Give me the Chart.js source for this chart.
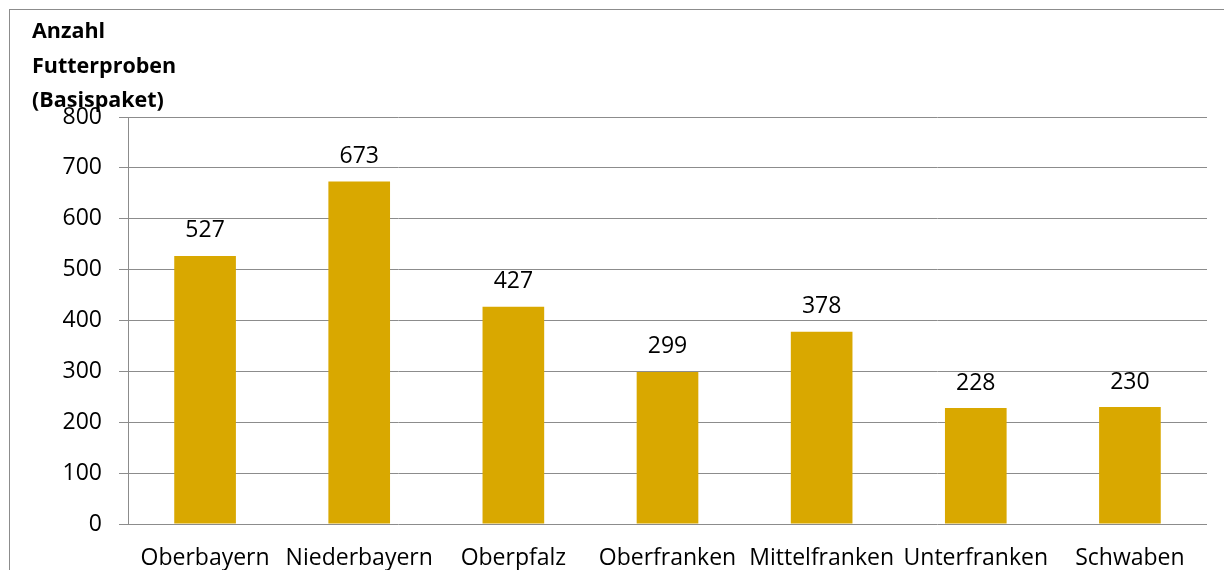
<!DOCTYPE html>
<html>
<head>
<meta charset="utf-8">
<script src="https://cdn.jsdelivr.net/npm/chart.js@4/dist/chart.umd.min.js"></script>
<style>
  html, body { margin: 0; padding: 0; background: #fff; }
  #wrap { width: 1224px; height: 570px; }
</style>
</head>
<body>
<div id="wrap"><canvas id="futter"></canvas></div>
<script>
"use strict";

// data
const regions = ['Oberbayern', 'Niederbayern', 'Oberpfalz', 'Oberfranken', 'Mittelfranken', 'Unterfranken', 'Schwaben'];
const samples = [527, 673, 427, 299, 378, 228, 230];
const titleLines = ['Anzahl', 'Futterproben', '(Basispaket)'];

const FONT = '"Open Sans", sans-serif';
const GRID = '#8c8c8c';

// outer frame + title
const framePlugin = {
  id: 'frame',
  beforeDraw(chart) {
    const ctx = chart.ctx;
    ctx.save();
    ctx.strokeStyle = GRID;
    ctx.lineWidth = 1;
    ctx.strokeRect(9.5, 9.5, 1300, 700);
    ctx.restore();
  },
  afterDraw(chart) {
    const ctx = chart.ctx;
    ctx.save();
    ctx.fillStyle = '#000';
    ctx.font = 'bold 21.5px ' + FONT;
    ctx.textBaseline = 'middle';
    ctx.textAlign = 'left';
    titleLines.forEach((t, i) => ctx.fillText(t, 32, 32 + i * 34.5));
    ctx.restore();
  }
};

// value labels above bars
const valuePlugin = {
  id: 'values',
  afterDatasetsDraw(chart) {
    const ctx = chart.ctx;
    const meta = chart.getDatasetMeta(0);
    ctx.save();
    ctx.fillStyle = '#000';
    ctx.font = '23px ' + FONT;
    ctx.textAlign = 'center';
    ctx.textBaseline = 'middle';
    meta.data.forEach((bar, i) => {
      ctx.fillText(String(samples[i]), bar.x, bar.y - 25);
    });
    ctx.restore();
  }
};

const config = {
  type: 'bar',
  data: {
    labels: regions,
    datasets: [{
      data: samples,
      backgroundColor: '#d9a800',
      borderWidth: 0,
      categoryPercentage: 1,
      barPercentage: 0.4
    }]
  },
  options: {
    responsive: true,
    maintainAspectRatio: false,
    animation: false,
    layout: {
      padding: { top: 117, right: 17, left: 0, bottom: 0 }
    },
    plugins: {
      legend: { display: false },
      tooltip: { enabled: false }
    },
    scales: {
      x: {
        grid: { display: false },
        border: { display: false },
        ticks: {
          color: '#000',
          font: { family: FONT, size: 23 },
          padding: 13,
          maxRotation: 0,
          autoSkip: false
        },
        afterFit: (s) => { s.height = 46; }
      },
      y: {
        min: 0,
        max: 800,
        ticks: {
          stepSize: 100,
          color: '#000',
          font: { family: FONT, size: 23 },
          padding: 17
        },
        grid: { color: GRID, lineWidth: 1, tickLength: 9 },
        border: { display: true, color: GRID, width: 1 },
        afterFit: (s) => { s.width = 128; }
      }
    }
  },
  plugins: [framePlugin, valuePlugin]
};

const futterChart = new Chart(document.getElementById('futter'), config);
</script>
</body>
</html>
